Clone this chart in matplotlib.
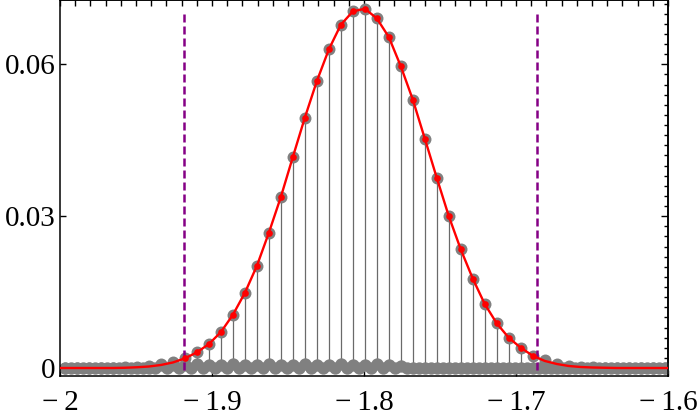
import numpy as np
import matplotlib
matplotlib.use('Agg')
import matplotlib.pyplot as plt
from matplotlib.ticker import MultipleLocator, NullLocator

plt.rcParams['font.family'] = ['Liberation Serif', 'DejaVu Serif']

# sample grid (regular spacing read from the stems)
x_first = -1.9967
x_step = 0.00789
n_pts = 51

# heights of the gray stem points
y_stem = [0.0001, 0.0001, 0.0001, 0.0001, 0.0001, 0.00015,
          0.00025, 0.0004, 0.0007, 0.0011,
          0.00191, 0.00310, 0.00474, 0.00711, 0.01052, 0.01486, 0.02019, 0.02674,
          0.03381, 0.04171, 0.04948, 0.05670, 0.06296, 0.06783, 0.07046, 0.07099,
          0.06908, 0.06539, 0.05961, 0.05303, 0.04533, 0.03756, 0.03000, 0.02343,
          0.01766, 0.01263, 0.00882, 0.00598, 0.00401, 0.00243,
          0.0015, 0.0008, 0.00045, 0.00026, 0.00015,
          0.0001, 0.0001, 0.0001, 0.0001, 0.0001, 0.0001]

# second gray series lying on the axis (same grid)
y_base = [0.0, 0.0, 0.0, 0.0, 0.0, 0.0, 0.0, 0.0, 0.0005, 0.0006,
          0.0006, 0.0007, 0.0006, 0.0006, 0.0007, 0.0006, 0.0006, 0.0007, 0.0006, 0.0006,
          0.0007, 0.0006, 0.0006, 0.0007, 0.0006, 0.0006, 0.0007, 0.0005, 0.0003, 0.0,
          0.0, 0.0, 0.0, 0.0, 0.0, 0.0, 0.0, 0.0, 0.0, 0.0,
          0.0, 0.0, 0.0, 0.0, 0.0, 0.0, 0.0, 0.0, 0.0, 0.0, 0.0]

# same series between the grid points, all on zero
y_base_mid = [0.0] * (n_pts - 1)

# fitted red curve sampled on the same grid
y_fit = [0.0, 0.0, 0.0, 0.0, 0.0, 0.00005,
         0.00015, 0.0003, 0.0006, 0.0011,
         0.00191, 0.00310, 0.00474, 0.00711, 0.01052, 0.01486, 0.02019, 0.02674,
         0.03381, 0.04171, 0.04948, 0.05670, 0.06296, 0.06783, 0.07046, 0.07099,
         0.06908, 0.06539, 0.05961, 0.05303, 0.04533, 0.03756, 0.03000, 0.02343,
         0.01766, 0.01263, 0.00882, 0.00598, 0.00401, 0.00243,
         0.0014, 0.0008, 0.0004, 0.0002, 0.0001,
         0.00005, 0.0, 0.0, 0.0, 0.0, 0.0]

# points inside the window get a red marker
fit_first, fit_last = 10, 39

# window limits (dashed lines)
x_cuts = [-1.9184, -1.6862]
cut_top = 0.0703

xs = x_first + x_step * np.arange(n_pts)
xs_mid = xs[:-1] + x_step / 2

fig = plt.figure(figsize=(7, 4.17), dpi=100)
ax = fig.add_axes([0.0857, 0.0983, 0.8686, 0.9007])

gray = '#808080'
ax.vlines(xs, 0, y_stem, colors='#6a6a6a', linewidth=0.9, zorder=1)
ax.plot(xs_mid, y_base_mid, 'o', color=gray, markersize=8.9, markeredgewidth=0, zorder=2)
ax.plot(xs, y_base, 'o', color=gray, markersize=8.9, markeredgewidth=0, zorder=2)
ax.plot(xs, y_stem, 'o', color=gray, markersize=8.6, markeredgewidth=0, zorder=2)
ax.vlines(x_cuts, -0.0004, cut_top, colors='#850085', linewidth=1.8,
          linestyles=(0, (3.2, 1.6)), zorder=3)
ax.plot(np.concatenate([[-2.0], xs, [-1.6]]), np.concatenate([[0.0], y_fit, [0.0]]),
        '-', color='red', linewidth=1.7, zorder=4)
ax.plot(xs[fit_first:fit_last + 1], y_fit[fit_first:fit_last + 1], 'o', color='red',
        markersize=4.8, markeredgewidth=0, zorder=5)

ax.set_xlim(-2.0, -1.6)
ax.set_ylim(-0.00158, 0.07263)

ax.set_xticks([-2.0, -1.9, -1.8, -1.7, -1.6])
ax.set_xticklabels(['\u2212\u20092', '\u2212\u20091.9', '\u2212\u20091.8', '\u2212\u20091.7', '\u2212\u20091.6'])
ax.set_yticks([0, 0.03, 0.06])
ax.set_yticklabels(['0', '0.03', '0.06'])

ax.tick_params(axis='both', which='major', direction='in', labelsize=21, length=4, width=1)
ax.tick_params(axis='x', pad=10)
ax.tick_params(axis='y', pad=3)

# mirrored frame ticks on top and right
top = ax.secondary_xaxis('top')
top.set_xticks(np.arange(-2.0, -1.599, 0.01))
top.tick_params(direction='in', length=4, width=1, labeltop=False)
top.xaxis.set_minor_locator(NullLocator())
right = ax.secondary_yaxis('right')
right.set_yticks([0, 0.03, 0.06])
right.yaxis.set_minor_locator(MultipleLocator(0.002))
right.tick_params(which='major', direction='in', length=5, width=1, labelright=False)
right.tick_params(which='minor', direction='in', length=3, width=1)

for sp in list(ax.spines.values()) + [top.spines['top'], right.spines['right']]:
    sp.set_linewidth(1.1)

fig.savefig('out.png', dpi=100)
